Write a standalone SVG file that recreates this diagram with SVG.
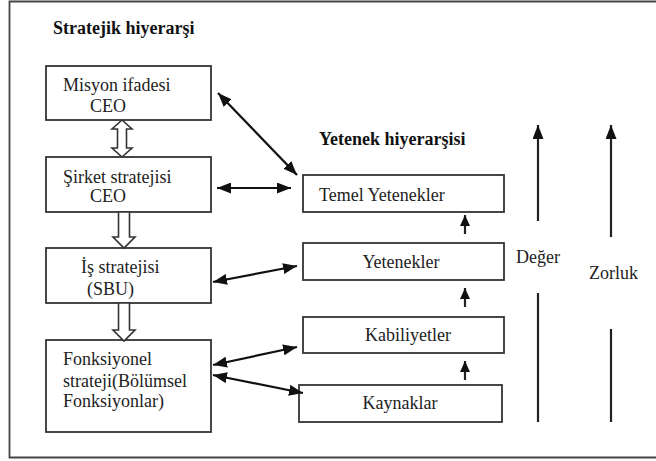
<svg xmlns="http://www.w3.org/2000/svg" width="656" height="461" viewBox="0 0 656 461">
<style>
  .box{fill:#fff;stroke:#333;stroke-width:1.8}
  text{font-family:'Liberation Serif','Times New Roman',serif;font-size:18px;fill:#222}
  .b{font-weight:bold;fill:#111}
  .con{stroke:#111;stroke-width:2.2;fill:none}
  .hol{fill:#fff;stroke:#333;stroke-width:1.6;stroke-linejoin:miter}
  .up{stroke:#222;stroke-width:2.2;fill:none}
</style>
<defs>
  <marker id="ah" viewBox="0 0 14 11" refX="14" refY="5.5" markerWidth="14" markerHeight="11" markerUnits="userSpaceOnUse" orient="auto-start-reverse">
    <path d="M0,0 L14,5.5 L0,11 z" fill="#111"/>
  </marker>
  <marker id="su" viewBox="0 0 11 10" refX="11" refY="5" markerWidth="11" markerHeight="10" markerUnits="userSpaceOnUse" orient="auto">
    <path d="M0,0 L11,5 L0,10 z" fill="#111"/>
  </marker>
</defs>
<rect width="656" height="461" fill="#fff"/>
<path d="M670,1.5 H9.5 V457.5 H670" fill="none" stroke="#444" stroke-width="1.8"/>

<text class="b" x="53" y="34">Stratejik hiyerarşi</text>
<text class="b" x="319" y="145">Yetenek hiyerarşisi</text>

<g id="misyon"><rect class="box" x="46" y="66" width="165" height="54"/>
  <text x="63" y="91">Misyon ifadesi</text><text x="90" y="112">CEO</text></g>
<g id="sirket"><rect class="box" x="46" y="157" width="165" height="55"/>
  <text x="63" y="183">Şirket stratejisi</text><text x="90" y="202">CEO</text></g>
<g id="is"><rect class="box" x="46" y="248" width="165" height="55"/>
  <text x="81" y="273">İş stratejisi</text><text x="87" y="295">(SBU)</text></g>
<g id="fonksiyonel"><rect class="box" x="46" y="340" width="165" height="92"/>
  <text x="63" y="365">Fonksiyonel</text><text x="63" y="387">strateji(Bölümsel</text><text x="63" y="407">Fonksiyonlar)</text></g>

<g id="temel"><rect class="box" x="303" y="175" width="201" height="37"/>
  <text x="319" y="201">Temel Yetenekler</text></g>
<g id="yetenekler"><rect class="box" x="303" y="243" width="201" height="37"/>
  <text x="401" y="268" text-anchor="middle">Yetenekler</text></g>
<g id="kabiliyetler"><rect class="box" x="303" y="317" width="201" height="36"/>
  <text x="408" y="341" text-anchor="middle">Kabiliyetler</text></g>
<g id="kaynaklar"><rect class="box" x="299" y="385" width="203" height="37"/>
  <text x="400" y="409" text-anchor="middle">Kaynaklar</text></g>

<g id="deger"><text x="516" y="263">Değer</text></g>
<g id="zorluk"><text x="589" y="279">Zorluk</text></g>

<g id="connectors">
  <polygon class="hol" points="122,120 132,129 126.5,129 126.5,148 132,148 122,157 112,148 117.5,148 117.5,129 112,129"/>
  <polygon class="hol" points="118.5,212 129.5,212 129.5,237 135,237 124,248 113,237 118.5,237"/>
  <polygon class="hol" points="118.5,303 129.5,303 129.5,330 135,330 124,341 113,330 118.5,330"/>

  <line class="con" x1="218" y1="93" x2="297" y2="175" marker-start="url(#ah)" marker-end="url(#ah)"/>
  <line class="con" x1="217" y1="188" x2="291" y2="188" marker-start="url(#ah)" marker-end="url(#ah)"/>
  <line class="con" x1="213" y1="282" x2="297" y2="266" marker-start="url(#ah)" marker-end="url(#ah)"/>
  <line class="con" x1="213" y1="365" x2="297" y2="347" marker-start="url(#ah)" marker-end="url(#ah)"/>
  <line class="con" x1="213" y1="375" x2="303" y2="393" marker-start="url(#ah)" marker-end="url(#ah)"/>

  <line class="up" x1="465" y1="234" x2="465" y2="215" marker-end="url(#su)"/>
  <line class="up" x1="465" y1="307" x2="465" y2="288" marker-end="url(#su)"/>
  <line class="up" x1="465" y1="380" x2="465" y2="361" marker-end="url(#su)"/>

  <line class="up" x1="538" y1="221" x2="538" y2="125" marker-end="url(#ah)"/>
  <line class="up" x1="538" y1="293" x2="538" y2="422"/>
  <line class="up" x1="611" y1="237" x2="611" y2="125" marker-end="url(#ah)"/>
  <line class="up" x1="611" y1="329" x2="611" y2="422"/>
</g>
</svg>
